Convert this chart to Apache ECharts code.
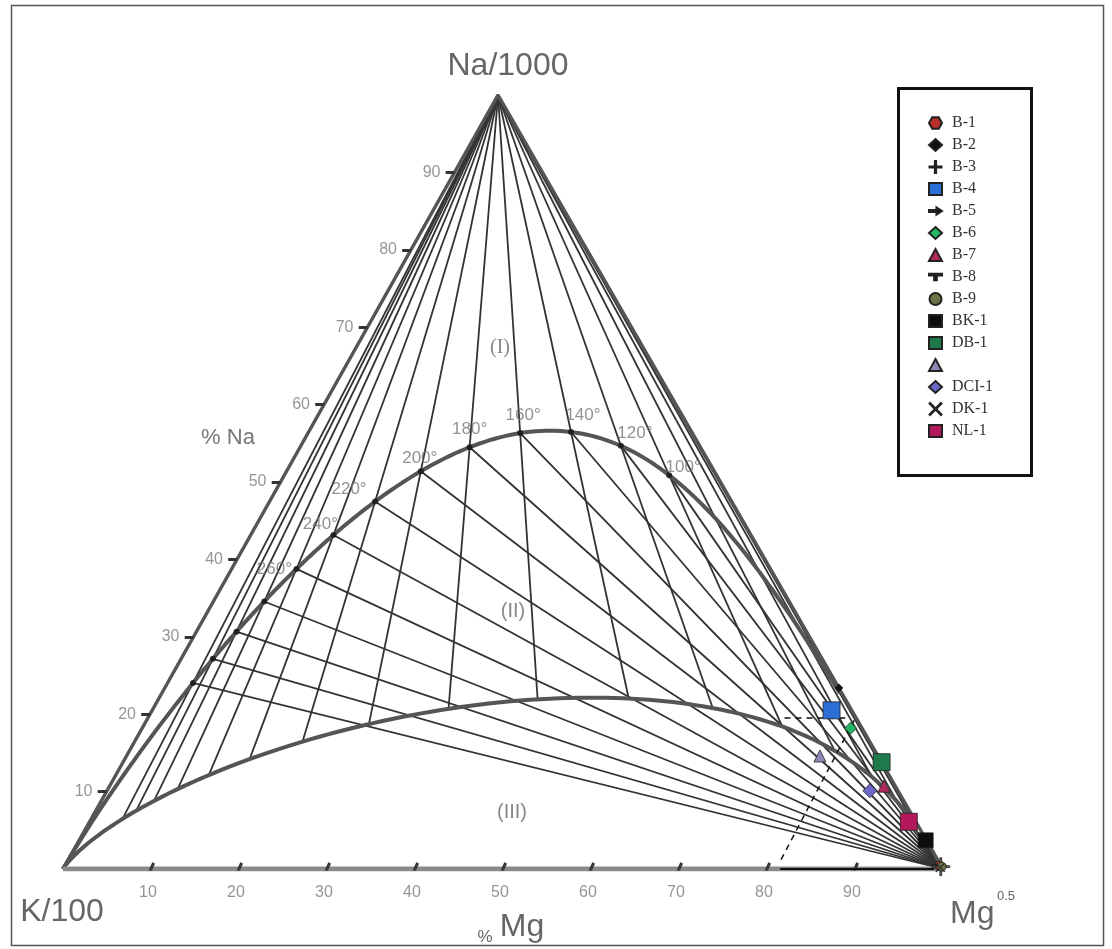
<!DOCTYPE html>
<html>
<head>
<meta charset="utf-8">
<script src="https://cdn.jsdelivr.net/npm/echarts@6/dist/echarts.min.js"></script>
<style>
  html, body { margin: 0; padding: 0; background: #fff; }
  #chart { width: 1112px; height: 949px; }
</style>
</head>
<body>
<div id="chart"></div>
<script>
// tick values on the Na (left) and Mg (bottom) edges
const naTicks = [10, 20, 30, 40, 50, 60, 70, 80, 90];
const mgTicks = [10, 20, 30, 40, 50, 60, 70, 80, 90];

// isotherms (°C): K-Na lines from the Mg corner, K-Mg lines from the Na apex
const kNaTemps = [100, 120, 140, 160, 180, 200, 220, 240, 260, 280, 300, 320, 340];
const kMgTemps = [20, 40, 60, 80, 100, 120, 140, 160, 180, 200, 220, 240, 260, 280, 300, 320, 340];
const labelTemps = [100, 120, 140, 160, 180, 200, 220, 240, 260];

// samples, in % of the Na/1000 - K/100 - Mg^0.5 sum
const sampleNames = ["B-1", "B-2", "B-3", "B-4", "B-5", "B-6", "B-7", "B-8", "B-9", "BK-1", "DB-1", "\u00a0", "DCI-1", "DK-1", "NL-1"];
const sampleNa = [0.4, 23.4, 0.3, 20.5, 0.5, 18.2, 10.7, 0.3, 0.3, 3.7, 13.8, 14.6, 10.1, 0.2, 6.1];
const sampleMg = [99.4, 76.6, 99.6, 77.2, 99.3, 80.5, 88.0, 99.5, 99.7, 96.2, 86.2, 78.8, 86.7, 99.6, 93.1];

// dashed guides drawn by the authors
const guideNa = [19.6];
const guideMg = [81];

const sampleStyle = {
  "B-1": { symbol: "path://M5,0H15L20,9L15,18H5L0,9Z", size: [11, 10], color: "#b8302c" },
  "B-2": { symbol: "diamond", size: 8, color: "#111" },
  "B-3": { symbol: "path://M0,9H20V11H0ZM9,0H11V20H9Z", size: 18, color: "#7d6456" },
  "B-4": { symbol: "rect", size: 17, color: "#2c6fd4" },
  "B-5": { symbol: "path://M0,4H8V1L14,5L8,9V6H0Z", size: [12, 8], color: "#111" },
  "B-6": { symbol: "diamond", size: 12, color: "#22b866" },
  "B-7": { symbol: "triangle", size: 12, color: "#b3295b" },
  "B-8": { symbol: "path://M0,0H14V2H8.5V7H5.5V2H0Z", size: [12, 7], color: "#111" },
  "B-9": { symbol: "circle", size: 9, color: "#6f7146" },
  "BK-1": { symbol: "rect", size: 15, color: "#0d0d0d" },
  "DB-1": { symbol: "rect", size: 17, color: "#1f7a4b" },
  "\u00a0": { symbol: "triangle", size: 12, color: "#8d89b6" },
  "DCI-1": { symbol: "diamond", size: 14, color: "#6b66c8" },
  "DK-1": { symbol: "path://M0,1L1,0L10,9L19,0L20,1L11,10L20,19L19,20L10,11L1,20L0,19L9,10Z", size: 9, color: "#444" },
  "NL-1": { symbol: "rect", size: 17, color: "#b3185b" }
};

const tempLabelOffset = {
  100: [14, -8], 120: [14, -13], 140: [12, -17], 160: [3, -18], 180: [0, -18],
  200: [-1, -13], 220: [-26, -12], 240: [-13, -11], 260: [-22, 0]
};

const AX = 435 / 880;
function xy(na, mg) { return [mg + na * AX, na]; }
function lkn(t) { return 1.75 - 1390 / (t + 273.15); }
function lkm(t) { return 14.0 - 4410 / (t + 273.15); }
function comp(ln, lm) {
  const k = 1000 * Math.pow(10, ln);
  const a = 1, b = k / 100, c = k / Math.pow(10, lm / 2);
  const s = a + b + c;
  return xy(100 * a / s, 100 * c / s);
}
const eqPoint = t => comp(lkn(t), lkm(t));
const immPoint = lm => comp(0.315 * lm - 2.0, lm);

// full equilibrium line
const fullEq = [];
for (let t = 20; t <= 340; t += 2) fullEq.push(eqPoint(t));
for (let t = 360; t <= 50000; t *= 1.08) fullEq.push(eqPoint(t));
fullEq.push(xy(0, 0));

// immature waters line
const immature = [];
for (let m = lkm(20); m <= 14; m += 0.05) immature.push(immPoint(m));
immature.push(xy(0, 0));

const isoLines = kNaTemps.map(t => ({ coords: [xy(0, 100), eqPoint(t)] }))
  .concat(kMgTemps.map(t => ({ coords: [xy(100, 0), immPoint(lkm(t))] })));

const naTickMarks = naTicks.map(v => ({ coords: [xy(v, 0), [xy(v, 0)[0] - 1.0, v]] }));
const mgTickMarks = mgTicks.map(v => ({ coords: [[v - 0.3, -0.8], [v + 0.3, 0.8]] }));

const guideLines = [
  { coords: [xy(guideNa[0], 72.3), xy(guideNa[0], 79.2)] },
  { coords: [xy(1.2, guideMg[0]), xy(19.2, guideMg[0] - 0.6)] }
];

const labelFont = "'Liberation Sans Narrow', 'Liberation Sans', Arial, sans-serif";

const series = [
  {
    type: "lines", coordinateSystem: "cartesian2d", silent: true, z: 1,
    data: isoLines,
    lineStyle: { color: "#333", width: 1.8, opacity: 1 }
  },
  {
    type: "line", data: fullEq, showSymbol: false, silent: true, z: 2,
    lineStyle: { color: "#555", width: 4 }
  },
  {
    type: "line", data: immature, showSymbol: false, silent: true, z: 2,
    lineStyle: { color: "#555", width: 4 }
  },
  {
    type: "line", silent: true, showSymbol: false, z: 3,
    data: [xy(0, 0), xy(100, 0), xy(0, 100), xy(0, 0)],
    lineStyle: { color: "#555", width: 3.5 }
  },
  {
    type: "line", silent: true, showSymbol: false, z: 3,
    data: [xy(0, 0), xy(0, 100)],
    lineStyle: { color: "#8a8a8a", width: 5 }
  },
  {
    type: "line", silent: true, showSymbol: false, z: 4,
    data: [xy(0, 81.5), xy(0, 99)],
    lineStyle: { color: "#111", width: 2 }
  },
  {
    type: "lines", coordinateSystem: "cartesian2d", silent: true, z: 4,
    data: guideLines,
    lineStyle: { color: "#111", width: 1.5, type: [6, 5], opacity: 1 }
  },
  {
    type: "lines", coordinateSystem: "cartesian2d", silent: true, z: 4,
    data: naTickMarks.concat(mgTickMarks),
    lineStyle: { color: "#333", width: 3, opacity: 1 }
  },
  {
    type: "scatter", silent: true, z: 5, symbolSize: 0,
    data: naTicks.map(v => ({ value: xy(v, 0), name: String(v) })),
    label: {
      show: true, position: "left", distance: 14, formatter: "{b}",
      fontFamily: labelFont, fontSize: 16, color: "#7a7a7a"
    }
  },
  {
    type: "scatter", silent: true, z: 5, symbolSize: 0,
    data: mgTicks.map(v => ({ value: xy(0, v), name: String(v) })),
    label: {
      show: true, position: "bottom", distance: 16, offset: [-3, 0], formatter: "{b}",
      fontFamily: labelFont, fontSize: 16, color: "#7a7a7a"
    }
  },
  {
    type: "scatter", silent: true, z: 6, symbolSize: 6,
    itemStyle: { color: "#111" },
    data: kNaTemps.map(t => eqPoint(t))
  },
  {
    type: "scatter", silent: true, z: 6, symbolSize: 0,
    data: labelTemps.map(t => ({
      value: eqPoint(t), name: t + "°",
      label: { offset: tempLabelOffset[t] }
    })),
    label: {
      show: true, position: "inside", formatter: "{b}",
      fontFamily: labelFont, fontSize: 17, color: "#777"
    }
  }
];

sampleNames.forEach((name, i) => {
  const st = sampleStyle[name];
  series.push({
    type: "scatter", name: name, z: 10,
    data: [xy(sampleNa[i], sampleMg[i])],
    symbol: st.symbol, symbolSize: st.size, symbolKeepAspect: true,
    itemStyle: { color: st.color, borderColor: "#222", borderWidth: 0.8, opacity: 1 }
  });
});

const option = {
  animation: false,
  backgroundColor: "#fff",
  grid: { left: 63, top: 95, width: 880, height: 774 },
  xAxis: { type: "value", min: 0, max: 100, show: false },
  yAxis: { type: "value", min: 0, max: 100, show: false },
  legend: {
    data: sampleNames,
    orient: "vertical", left: 928, top: 115,
    itemWidth: 13, itemHeight: 12, itemGap: 6, padding: 0,
    textStyle: {
      fontFamily: "'Liberation Serif', 'Times New Roman', serif", fontSize: 16, color: "#333",
      padding: [0, 0, 0, 5]
    }
  },
  graphic: [
    { type: "rect", shape: { x: 11.5, y: 5.5, width: 1092, height: 940 }, style: { fill: "none", stroke: "#555", lineWidth: 1.5 }, z: 0 },
    { type: "rect", shape: { x: 898.5, y: 88.5, width: 133, height: 387 }, style: { fill: "none", stroke: "#111", lineWidth: 3 }, z: 20 },
    { type: "text", x: 508, y: 66, style: { text: "Na/1000", font: "32px " + labelFont, fill: "#666", align: "center", verticalAlign: "middle" }, z: 20 },
    { type: "text", x: 62, y: 912, style: { text: "K/100", font: "32px " + labelFont, fill: "#666", align: "center", verticalAlign: "middle" }, z: 20 },
    { type: "text", x: 950, y: 914, style: { text: "Mg", font: "32px " + labelFont, fill: "#666", align: "left", verticalAlign: "middle" }, z: 20 },
    { type: "text", x: 997, y: 896, style: { text: "0.5", font: "13px " + labelFont, fill: "#666", align: "left", verticalAlign: "middle" }, z: 20 },
    { type: "text", x: 485, y: 937, style: { text: "%", font: "17px " + labelFont, fill: "#666", align: "center", verticalAlign: "middle" }, z: 20 },
    { type: "text", x: 522, y: 927, style: { text: "Mg", font: "32px " + labelFont, fill: "#666", align: "center", verticalAlign: "middle" }, z: 20 },
    { type: "text", x: 228, y: 438, style: { text: "% Na", font: "22px " + labelFont, fill: "#777", align: "center", verticalAlign: "middle" }, z: 20 },
    { type: "text", x: 500, y: 348, style: { text: "(I)", font: "20px 'Liberation Serif', serif", fill: "#888", align: "center", verticalAlign: "middle" }, z: 20 },
    { type: "text", x: 513, y: 611, style: { text: "(II)", font: "20px " + labelFont, fill: "#888", align: "center", verticalAlign: "middle" }, z: 20 },
    { type: "text", x: 512, y: 812, style: { text: "(III)", font: "20px " + labelFont, fill: "#888", align: "center", verticalAlign: "middle" }, z: 20 }
  ],
  series: series
};

const chart = echarts.init(document.getElementById("chart"));
chart.setOption(option);
</script>
</body>
</html>
